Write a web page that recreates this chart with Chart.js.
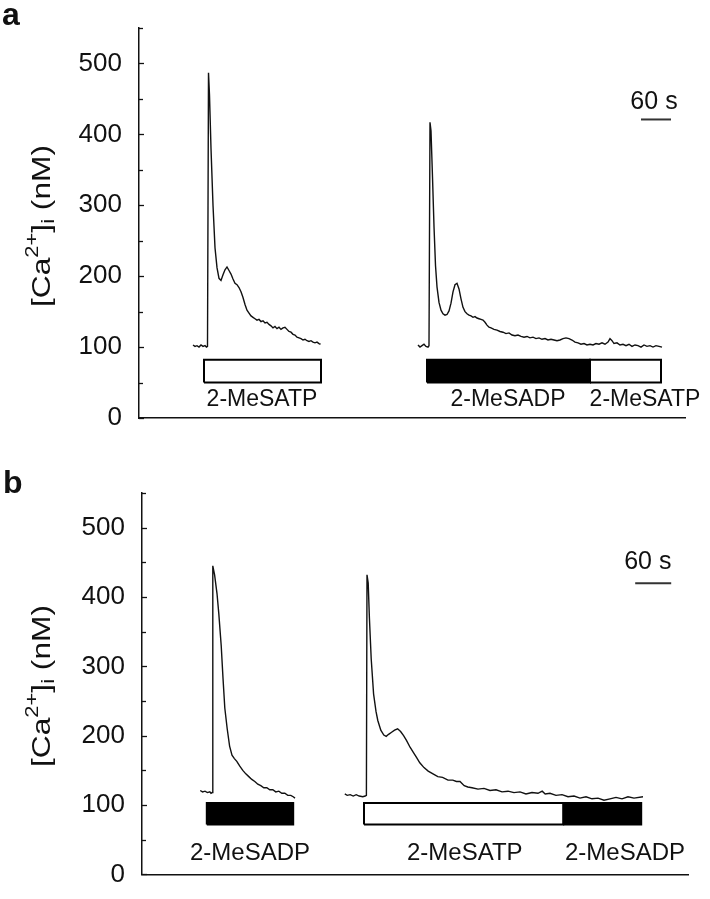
<!DOCTYPE html>
<html>
<head>
<meta charset="utf-8">
<title>[Ca2+]i traces</title>
<script src="https://cdn.jsdelivr.net/npm/chart.js@4.4.1/dist/chart.umd.min.js"></script>
<style>
    body { margin: 0; background: #fff; }
    #wrap { position: relative; width: 710px; height: 899px; }
    canvas { position: absolute; left: 0; }
    #panelA { top: 0; }
    #panelB { top: 450px; }
</style>
</head>
<body>
<div id="wrap">
    <canvas id="panelA" width="710" height="450"></canvas>
    <canvas id="panelB" width="710" height="449"></canvas>
</div>
<script>
// ---- data (time in s, [Ca2+]i in nM) ----
const yTickValues = [0, 100, 200, 300, 400, 500];
const yMinorValues = [50, 150, 250, 350, 450, 550];

// panel a, first response (2-MeSATP)
const a1Time = [108, 112, 116, 120, 124, 128, 132, 135, 137, 139, 141, 144, 148, 152, 156, 160, 164, 168, 172, 176,
    180, 184, 188, 192, 196, 200, 204, 208, 212, 216, 220, 224, 228, 232, 236, 240, 244, 248, 252, 256,
    260, 264, 268, 272, 276, 280, 284, 288, 292, 296, 300, 304, 308, 312, 316, 320, 324, 328, 332, 336,
    340, 344, 348, 352, 356, 360, 363];
const a1Ca = [103, 101, 102, 100, 103, 101, 102, 100, 101, 487, 455, 380, 300, 240, 212, 197, 194, 202, 209, 213,
    208, 203, 196, 190, 188, 184, 178, 170, 160, 152, 148, 144, 142, 140, 138, 139, 136, 137, 134, 135,
    132, 130, 127, 129, 126, 128, 125, 127, 128, 125, 122, 121, 118, 117, 114, 113, 112, 110, 111, 109,
    108, 109, 107, 106, 107, 105, 104];

// panel a, second response (2-MeSADP then 2-MeSATP)
const a2Time = [558, 562, 566, 570, 574, 578, 580, 582, 584, 587, 590, 593, 596, 600, 604, 608, 612, 616, 620, 624,
    628, 632, 636, 640, 644, 648, 652, 656, 660, 664, 668, 672, 676, 680, 684, 688, 692, 696, 700, 704,
    710, 716, 722, 728, 734, 740, 746, 752, 758, 764, 770, 776, 782, 788, 794, 800, 806, 812, 818, 824,
    830, 836, 842, 848, 854, 860, 866, 872, 878, 884, 890, 896, 902, 908, 914, 920, 926, 932, 938, 942,
    946, 950, 956, 962, 968, 974, 980, 986, 992, 998, 1004, 1010, 1016, 1022, 1028, 1034, 1040, 1046];
const a2Ca = [103, 100, 102, 104, 101, 100, 102, 417, 405, 340, 270, 215, 185, 163, 152, 147, 145, 146, 151, 162,
    178, 188, 190, 182, 168, 156, 150, 147, 145, 144, 142, 143, 141, 140, 139, 138, 135, 131, 128, 127,
    125, 124, 122, 121, 119, 120, 117, 116, 117, 115, 114, 115, 113, 114, 112, 113, 111, 112, 110, 111,
    110, 109, 110, 112, 113, 112, 110, 107, 106, 104, 105, 103, 104, 103, 105, 104, 106, 104, 107, 112,
    109, 105, 106, 103, 104, 102, 104, 101, 103, 102, 100, 103, 101, 102, 100, 102, 101, 100];

// panel b, first response (2-MeSADP)
const b1Time = [97, 101, 105, 109, 113, 115, 117, 118, 121, 125, 128, 132, 135, 138, 142, 146, 150, 154, 158, 163,
    168, 173, 178, 183, 188, 193, 198, 203, 208, 213, 218, 223, 228, 233, 238, 243, 248, 252, 255];
const b1Ca = [121, 119, 120, 118, 119, 117, 118, 445, 432, 405, 376, 330, 283, 240, 210, 185, 172, 167, 163, 156,
    150, 145, 141, 137, 134, 130, 128, 125, 125, 122, 122, 119, 120, 117, 117, 114, 114, 112, 110];

// panel b, second response (2-MeSATP then 2-MeSADP)
const b2Time = [338, 342, 347, 352, 357, 362, 368, 372, 374, 375, 377, 379, 382, 386, 390, 393, 398, 403, 407, 411,
    416, 421, 426, 431, 436, 441, 447, 453, 458, 463, 470, 477, 485, 493, 501, 510, 518, 524, 530, 537,
    543, 550, 560, 570, 580, 590, 600, 610, 620, 630, 640, 650, 660, 667, 672, 680, 690, 700, 710, 720,
    730, 740, 750, 760, 770, 780, 790, 800, 810, 820, 835];
const b2Ca = [116, 114, 115, 113, 115, 113, 112, 113, 114, 432, 420, 370, 311, 260, 235, 222, 208, 201, 199, 202,
    205, 208, 210, 206, 200, 193, 183, 175, 168, 161, 154, 149, 145, 141, 140, 136, 136, 134, 134, 128,
    126, 125, 123, 124, 121, 122, 119, 120, 118, 119, 116, 118, 117, 120, 116, 117, 114, 115, 112, 113,
    110, 112, 109, 110, 107, 109, 111, 109, 112, 110, 112];

// drug application bars: [start s, end s, fill]
const aBars = [[130, 364, 'white'], [576, 902, 'black'], [902, 1044, 'white']];
const bBars = [[108, 252, 'black'], [370, 702, 'white'], [702, 832, 'black']];
const aBarRange = [50, 82];
const bBarRange = [72, 103];

// drug names under the bars: [text, time, nM]
const aDrugLabels = [['2-MeSATP', 246, 26], ['2-MeSADP', 738, 26], ['2-MeSATP', 1012, 26]];
const bDrugLabels = [['2-MeSADP', 180, 31], ['2-MeSATP', 538, 31], ['2-MeSADP', 805, 31]];

// 60 s scale bar: [start, end, nM], text anchor [time, nM]
const aScaleBar = [1004, 1064, 421];
const aScaleText = [1030, 446];
const bScaleBar = [822, 882, 420];
const bScaleText = [843, 450];

const FONT = "'Liberation Sans', Arial, sans-serif";
const INK = '#111';

function zip(ts, vs) {
    return ts.map((t, i) => ({ x: t, y: vs[i] }));
}

function rectPoints(t0, t1, lo, hi) {
    return [{ x: t0, y: lo }, { x: t1, y: lo }, { x: t1, y: hi }, { x: t0, y: hi }, { x: t0, y: lo }];
}

// draws things Chart.js has no option for: inward ticks, rotated title with sup/sub, text labels
const extrasPlugin = {
    id: 'extras',
    afterDraw(chart) {
        const o = chart.options.plugins.extras;
        const { ctx, scales } = chart;
        const xs = scales.x, ys = scales.y;
        ctx.save();

        // inward tick marks
        ctx.strokeStyle = INK;
        ctx.lineWidth = 1.3;
        const left = chart.chartArea.left;
        yTickValues.concat(yMinorValues).forEach(v => {
            const y = Math.round(ys.getPixelForValue(v)) + 0.5;
            const len = yTickValues.includes(v) ? 5 : 4;
            ctx.beginPath();
            ctx.moveTo(left, y);
            ctx.lineTo(left + len, y);
            ctx.stroke();
        });

        // drug labels and scale text
        ctx.fillStyle = INK;
        ctx.textAlign = 'center';
        ctx.textBaseline = 'middle';
        ctx.font = o.drugFont + 'px ' + FONT;
        o.drugLabels.forEach(([txt, t, v]) => {
            ctx.fillText(txt, xs.getPixelForValue(t), ys.getPixelForValue(v));
        });
        ctx.font = '25px ' + FONT;
        ctx.fillText('60 s', xs.getPixelForValue(o.scaleText[0]), ys.getPixelForValue(o.scaleText[1]));

        // panel letter
        ctx.textAlign = 'left';
        ctx.textBaseline = 'alphabetic';
        ctx.font = 'bold 32px ' + FONT;
        ctx.fillText(o.letter, o.letterPos[0], o.letterPos[1]);

        // y title: [Ca2+]i (nM)
        const size = 26, small = 18;
        const parts = [
            ['[Ca', size, 0], ['2+', small, -10], [']', size, 0], ['i', small, 6], [' (nM)', size, 0]
        ];
        let total = 0;
        parts.forEach(p => { ctx.font = p[1] + 'px ' + FONT; total += ctx.measureText(p[0]).width; });
        ctx.translate(o.titlePos[0], o.titlePos[1]);
        ctx.rotate(-Math.PI / 2);
        ctx.scale(o.titleLength / total, 1);
        ctx.textBaseline = 'middle';
        let x = -total / 2;
        parts.forEach(([txt, sz, dy]) => {
            ctx.font = sz + 'px ' + FONT;
            ctx.fillText(txt, x, dy + 1);
            x += ctx.measureText(txt).width;
        });
        ctx.restore();
    }
};

function makePanel(canvasId, cfg) {
    const datasets = [];
    cfg.traces.forEach(tr => {
        datasets.push({
            data: zip(tr[0], tr[1]),
            borderColor: INK,
            borderWidth: 1.4,
            pointRadius: 0,
            showLine: true,
            fill: false,
            tension: 0
        });
    });
    cfg.bars.forEach(([t0, t1, color]) => {
        datasets.push({
            data: rectPoints(t0, t1, cfg.barRange[0], cfg.barRange[1]),
            borderColor: '#000',
            backgroundColor: color === 'black' ? '#000' : '#fff',
            borderWidth: 2,
            pointRadius: 0,
            showLine: true,
            fill: 'shape',
            tension: 0
        });
    });
    datasets.push({
        data: [{ x: cfg.scaleBar[0], y: cfg.scaleBar[2] }, { x: cfg.scaleBar[1], y: cfg.scaleBar[2] }],
        borderColor: '#333',
        borderWidth: 2,
        pointRadius: 0,
        showLine: true,
        fill: false
    });

    return new Chart(document.getElementById(canvasId), {
        type: 'scatter',
        data: { datasets: datasets },
        plugins: [extrasPlugin],
        options: {
            responsive: false,
            animation: false,
            devicePixelRatio: 1,
            layout: { padding: cfg.padding },
            plugins: {
                legend: { display: false },
                tooltip: { enabled: false },
                extras: {
                    letter: cfg.letter,
                    letterPos: cfg.letterPos,
                    titlePos: cfg.titlePos,
                    titleLength: 162,
                    drugLabels: cfg.drugLabels,
                    drugFont: cfg.drugFont,
                    scaleText: cfg.scaleText
                }
            },
            scales: {
                x: {
                    type: 'linear',
                    min: 0,
                    max: cfg.xMax,
                    grid: { display: false },
                    ticks: { display: false },
                    border: { display: true, color: INK, width: 1.5 },
                    afterFit: s => { s.height = 0; }
                },
                y: {
                    type: 'linear',
                    min: 0,
                    max: 550,
                    grid: { display: false },
                    border: { display: true, color: INK, width: 1.5 },
                    ticks: {
                        stepSize: 50,
                        padding: 9,
                        color: INK,
                        font: { family: FONT, size: 26 },
                        callback: v => (v % 100 === 0 ? String(v) : '')
                    },
                    afterFit: s => { s.width = cfg.axisWidth; }
                }
            }
        }
    });
}

makePanel('panelA', {
    traces: [[a1Time, a1Ca], [a2Time, a2Ca]],
    bars: aBars,
    barRange: aBarRange,
    drugLabels: aDrugLabels,
    drugFont: 23,
    scaleBar: aScaleBar,
    scaleText: aScaleText,
    xMax: 1092,
    axisWidth: 139,
    padding: { left: 0, top: 28, right: 25, bottom: 32 },
    letter: 'a',
    letterPos: [2, 25],
    titlePos: [42, 226]
});

makePanel('panelB', {
    traces: [[b1Time, b1Ca], [b2Time, b2Ca]],
    bars: bBars,
    barRange: bBarRange,
    drugLabels: bDrugLabels,
    drugFont: 24,
    scaleBar: bScaleBar,
    scaleText: bScaleText,
    xMax: 910,
    axisWidth: 142,
    padding: { left: 0, top: 43, right: 22, bottom: 15 },
    letter: 'b',
    letterPos: [3, 43],
    titlePos: [42, 236]
});
</script>
</body>
</html>
